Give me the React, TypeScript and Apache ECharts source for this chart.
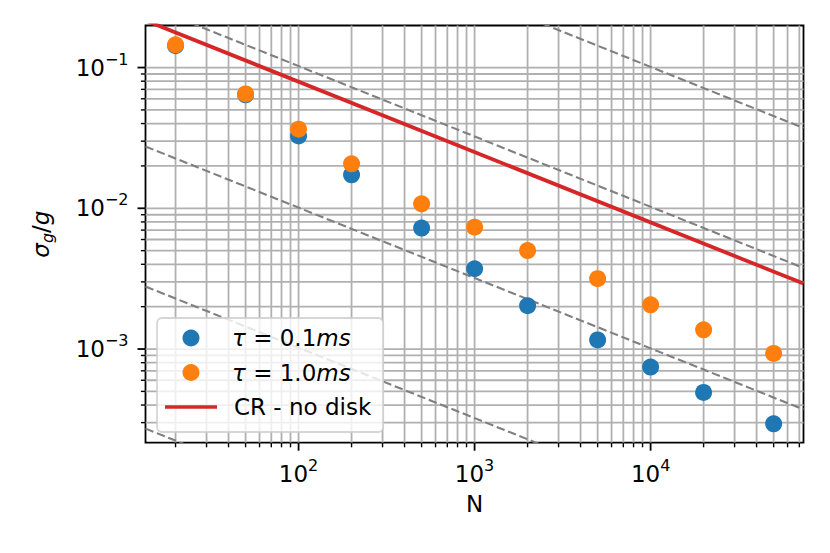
import React, { useEffect, useRef } from 'react';
import * as echarts from 'echarts';

// ---- data ----
const N_VALUES = [20, 50, 100, 200, 500, 1000, 2000, 5000, 10000, 20000, 50000];
const TAU_01_MS = [0.143, 0.064, 0.0327, 0.0173, 0.00723, 0.00372, 0.00203, 0.00116, 0.000745, 0.000492, 0.000294];
const TAU_10_MS = [0.145, 0.065, 0.0365, 0.0207, 0.01076, 0.00734, 0.00501, 0.00316, 0.00206, 0.00137, 0.000931];

// straight lines (log-log), given by their values at the two ends of the x range
const LINE_X = [13.5, 73900];
const CR_NO_DISK = [0.2161, 0.00292];
const GUIDE_LINES = [
  [2.75, 0.0372],
  [0.279, 0.00377],
  [0.0275, 0.000372],
  [0.00278, 0.0000376],
  [0.000272, 0.00000368],
];

// axis ranges and tick positions
const X_MIN = 13.5;
const X_MAX = 73900;
const Y_MIN = 0.000216;
const Y_MAX = 0.199;
const X_MAJOR = [100, 1000, 10000];
const X_MINOR = [20, 30, 40, 50, 60, 70, 80, 90, 200, 300, 400, 500, 600, 700, 800, 900,
  2000, 3000, 4000, 5000, 6000, 7000, 8000, 9000, 20000, 30000, 40000, 50000, 60000, 70000];
const Y_MAJOR = [0.001, 0.01, 0.1];
const Y_MINOR = [0.0003, 0.0004, 0.0005, 0.0006, 0.0007, 0.0008, 0.0009,
  0.002, 0.003, 0.004, 0.005, 0.006, 0.007, 0.008, 0.009,
  0.02, 0.03, 0.04, 0.05, 0.06, 0.07, 0.08, 0.09];

const NAME_A = 'τ = 0.1ms';
const NAME_B = 'τ = 1.0ms';
const NAME_C = 'CR - no disk';

const FONT = 'DejaVu Sans';
const FS = 23;

function powLabel(v: number): string {
  const e = Math.round(Math.log10(v));
  if (Math.abs(v / Math.pow(10, e) - 1) > 1e-6) return '';
  const es = e < 0 ? '\u2212' + String(-e) : String(e);
  return `{b|10}{s|${es}}`;
}

const labelRich = {
  b: { fontFamily: FONT, fontSize: FS, lineHeight: 33, color: '#000' },
  s: { fontFamily: FONT, fontSize: 16, lineHeight: 16, verticalAlign: 'top', color: '#000' },
};

export default function App() {
  const ref = useRef<HTMLDivElement>(null);

  useEffect(() => {
    if (!ref.current) return;
    const chart = echarts.init(ref.current, null, { renderer: 'svg' });

    const gridItems: number[][] = [
      ...X_MAJOR.map((v) => [v, 0.01, 0, 1]),
      ...X_MINOR.map((v) => [v, 0.01, 0, 0]),
      ...Y_MAJOR.map((v) => [100, v, 1, 1]),
      ...Y_MINOR.map((v) => [100, v, 1, 0]),
    ];

    const guideSeries = GUIDE_LINES.map((g) => ({
      type: 'line',
      data: [[LINE_X[0], g[0]], [LINE_X[1], g[1]]],
      symbol: 'none',
      silent: true,
      clip: true,
      z: 2,
      lineStyle: { color: '#808080', width: 2.1, type: [8.5, 3.7] },
    }));

    const option: any = {
      animation: false,
      backgroundColor: '#fff',
      grid: {
        left: 145.5,
        top: 25.5,
        width: 658,
        height: 417.2,
        show: true,
        borderColor: '#000',
        borderWidth: 1.8,
        backgroundColor: 'transparent',
        containLabel: false,
      },
      xAxis: {
        type: 'log',
        logBase: 10,
        min: X_MIN,
        max: X_MAX,
        name: 'N',
        nameLocation: 'middle',
        nameGap: 50,
        nameTextStyle: { fontFamily: FONT, fontSize: FS, color: '#000', lineHeight: 23 },
        axisLine: { show: false },
        axisTick: { show: false },
        splitLine: { show: false },
        minorTick: { show: false },
        minorSplitLine: { show: false },
        axisLabel: { formatter: powLabel, margin: 15, rich: labelRich, color: '#000' },
      },
      yAxis: {
        type: 'log',
        logBase: 10,
        min: Y_MIN,
        max: Y_MAX,
        name: '{i|σ}{sub|g}{r|/}{i|g}',
        nameLocation: 'middle',
        nameRotate: 90,
        nameGap: 90,
        nameTextStyle: {
          fontFamily: FONT,
          fontSize: FS,
          color: '#000',
          rich: {
            i: { fontFamily: FONT, fontSize: FS, fontStyle: 'italic', lineHeight: 30, color: '#000' },
            r: { fontFamily: FONT, fontSize: FS, lineHeight: 30, color: '#000' },
            sub: { fontFamily: FONT, fontSize: 16, fontStyle: 'italic', lineHeight: 16, verticalAlign: 'bottom', color: '#000' },
          },
        },
        axisLine: { show: false },
        axisTick: { show: false },
        splitLine: { show: false },
        minorTick: { show: false },
        minorSplitLine: { show: false },
        axisLabel: { formatter: powLabel, margin: 17, rich: labelRich, color: '#000' },
      },
      legend: {
        data: [
          { name: NAME_A },
          { name: NAME_B },
          { name: NAME_C, icon: 'path://M0 0H52V3.6H0Z', itemStyle: { color: '#d62728' } },
        ],
        orient: 'vertical',
        left: 157,
        top: 318,
        padding: [8.5, 12, 13.5, 8],
        itemGap: 11.5,
        itemWidth: 52,
        itemHeight: 17,
        backgroundColor: 'rgba(255,255,255,0.8)',
        borderColor: 'rgba(204,204,204,0.8)',
        borderWidth: 1.8,
        borderRadius: 5,
        selectedMode: false,
        textStyle: {
          fontFamily: FONT,
          fontSize: FS,
          color: '#000',
          rich: {
            a: { fontFamily: FONT, fontSize: FS, fontStyle: 'italic', lineHeight: 23, padding: [0, 0, 0, 10], color: '#000' },
            i: { fontFamily: FONT, fontSize: FS, fontStyle: 'italic', lineHeight: 23, color: '#000' },
            r: { fontFamily: FONT, fontSize: FS, lineHeight: 23, color: '#000' },
            c: { fontFamily: FONT, fontSize: FS, lineHeight: 23, padding: [0, 0, 0, 12], color: '#000' },
          },
        },
        formatter: (name: string) => {
          if (name === NAME_A) return '{a|τ}{r| = 0.1}{i|ms}';
          if (name === NAME_B) return '{a|τ}{r| = 1.0}{i|ms}';
          return '{c|CR - no disk}';
        },
      },
      series: [
        {
          type: 'custom',
          silent: true,
          z: 1,
          clip: false,
          encode: { x: 0, y: 1 },
          data: gridItems,
          renderItem: (params: any, api: any) => {
            const cs = params.coordSys;
            const isY = api.value(2) === 1;
            const major = api.value(3) === 1;
            const p = api.coord([api.value(0), api.value(1)]);
            const len = major ? 8 : 4.6;
            const tw = major ? 1.8 : 1.4;
            if (!isY) {
              const x = p[0];
              const yb = cs.y + cs.height;
              return {
                type: 'group',
                children: [
                  { type: 'line', shape: { x1: x, y1: cs.y, x2: x, y2: yb }, style: { stroke: '#b0b0b0', lineWidth: 1.8 } },
                  { type: 'line', shape: { x1: x, y1: yb, x2: x, y2: yb + len }, style: { stroke: '#000', lineWidth: tw } },
                ],
              };
            }
            const y = p[1];
            return {
              type: 'group',
              children: [
                { type: 'line', shape: { x1: cs.x, y1: y, x2: cs.x + cs.width, y2: y }, style: { stroke: '#b0b0b0', lineWidth: 1.8 } },
                { type: 'line', shape: { x1: cs.x - len, y1: y, x2: cs.x, y2: y }, style: { stroke: '#000', lineWidth: tw } },
              ],
            };
          },
        },
        ...guideSeries,
        {
          name: NAME_C,
          type: 'line',
          data: [[LINE_X[0], CR_NO_DISK[0]], [LINE_X[1], CR_NO_DISK[1]]],
          symbol: 'none',
          clip: true,
          z: 3,
          color: '#d62728',
          lineStyle: { color: '#d62728', width: 3.8 },
        },
        {
          name: NAME_A,
          type: 'scatter',
          data: N_VALUES.map((n, i) => [n, TAU_01_MS[i]]),
          symbol: 'circle',
          symbolSize: 17,
          z: 4,
          itemStyle: { color: '#1f77b4', opacity: 1 },
        },
        {
          name: NAME_B,
          type: 'scatter',
          data: N_VALUES.map((n, i) => [n, TAU_10_MS[i]]),
          symbol: 'circle',
          symbolSize: 17,
          z: 5,
          itemStyle: { color: '#ff7f0e', opacity: 1 },
        },
      ],
    };

    chart.setOption(option);
    return () => chart.dispose();
  }, []);

  return (
    <div
      ref={ref}
      style={{ position: 'absolute', left: 0, top: 0, width: 830, height: 553 }}
    />
  );
}
